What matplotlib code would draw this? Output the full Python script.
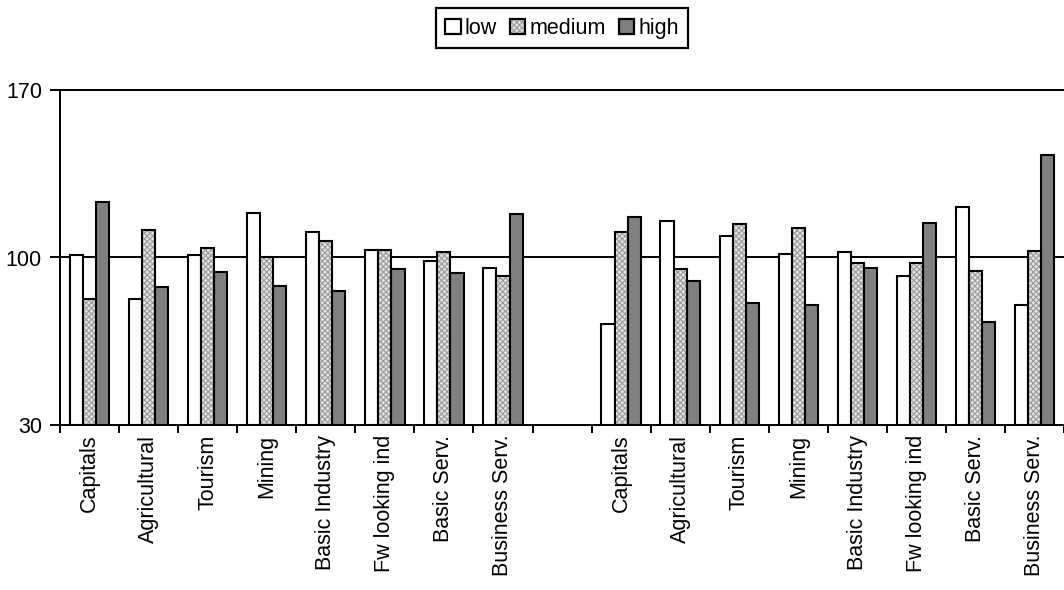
import numpy as np
import matplotlib
matplotlib.use('Agg')
import matplotlib.pyplot as plt
from matplotlib.patches import Patch

plt.rcParams['font.family'] = ['Liberation Sans', 'DejaVu Sans']
plt.rcParams['font.size'] = 15.5
plt.rcParams['hatch.linewidth'] = 0.8

# data
categories = ['Capitals', 'Agricultural', 'Tourism', 'Mining', 'Basic Industry',
              'Fw looking ind', 'Basic Serv.', 'Business Serv.']
low_1 = [101, 82.8, 101, 118.6, 110.8, 103.1, 98.7, 95.5]
medium_1 = [82.8, 111.3, 104, 100.1, 106.7, 103.1, 102.5, 92.3]
high_1 = [123.4, 87.5, 94, 88.2, 86.1, 95.2, 93.4, 118.3]
low_2 = [72.1, 115.4, 108.8, 101.3, 102.4, 92.3, 121, 80.3]
medium_2 = [110.8, 95, 113.9, 112.5, 97.9, 97.9, 94.4, 102.7]
high_2 = [116.9, 90.3, 80.8, 80.3, 95.5, 114.3, 73.1, 142.9]

labels = categories + [''] + categories
low = low_1 + [np.nan] + low_2
medium = medium_1 + [np.nan] + medium_2
high = high_1 + [np.nan] + high_2

ymin, ymax = 30, 170
x = np.arange(len(labels))
w = 1 / 4.5  # excel gap width 150%

fig = plt.figure(figsize=(10.64, 5.90), dpi=100)
ax = fig.add_axes([60/1064, 1 - 425/590, 1 - 60/1064 + 0.01, (425 - 90)/590])

lw = 1.5
ax.axhline(100, color='k', lw=1.4, zorder=1)
ax.axhline(170, color='k', lw=1.4, zorder=1, clip_on=False)

ax.bar(x - w, np.array(low) - ymin, w, bottom=ymin, color='white', edgecolor='k', lw=lw, zorder=2)
# medium: stippled fill, then black outline on top
ax.bar(x, np.array(medium) - ymin, w, bottom=ymin, color='#e2e2e2', edgecolor='#9a9a9a',
       hatch='xxxxxx', lw=0, zorder=2)
ax.bar(x, np.array(medium) - ymin, w, bottom=ymin, color='none', edgecolor='k', lw=lw, zorder=3)
ax.bar(x + w, np.array(high) - ymin, w, bottom=ymin, color='#808080', edgecolor='k', lw=lw, zorder=2)

ax.set_ylim(ymin, ymax)
ax.set_xlim(-0.5, len(labels) - 0.5 + 0.01 * 17 / 0.95)
ax.set_yticks([30, 100, 170])
ax.set_xticks(np.arange(-0.5, len(labels)), labels=[])
ax.set_xticks(x, labels=labels, minor=True, rotation=90)
ax.tick_params(axis='x', which='major', direction='out', length=6, width=1.4)
ax.tick_params(axis='x', which='minor', length=0, pad=7)
ax.tick_params(axis='y', direction='out', length=7, width=1.4, pad=6)
for s in ['top', 'right']:
    ax.spines[s].set_visible(False)
for s in ['left', 'bottom']:
    ax.spines[s].set_linewidth(1.4)

med_fill = Patch(facecolor='#e2e2e2', edgecolor='#9a9a9a', hatch='xxxxxx', lw=0)
med_edge = Patch(facecolor='none', edgecolor='k', lw=1.6)
handles = [Patch(facecolor='white', edgecolor='k', lw=1.6),
           (med_fill, med_edge),
           Patch(facecolor='#808080', edgecolor='k', lw=1.6)]
leg = fig.legend(handles, ['low', 'medium', 'high'], loc='upper center', ncol=3,
                 bbox_to_anchor=(562/1064, 1 - 8/590), fancybox=False, edgecolor='k',
                 handlelength=0.7, handleheight=0.7, handletextpad=0.2,
                 columnspacing=0.6, borderpad=0.45, borderaxespad=0, framealpha=1)
leg.get_frame().set_linewidth(1.6)

fig.savefig('out.png', dpi=100)
